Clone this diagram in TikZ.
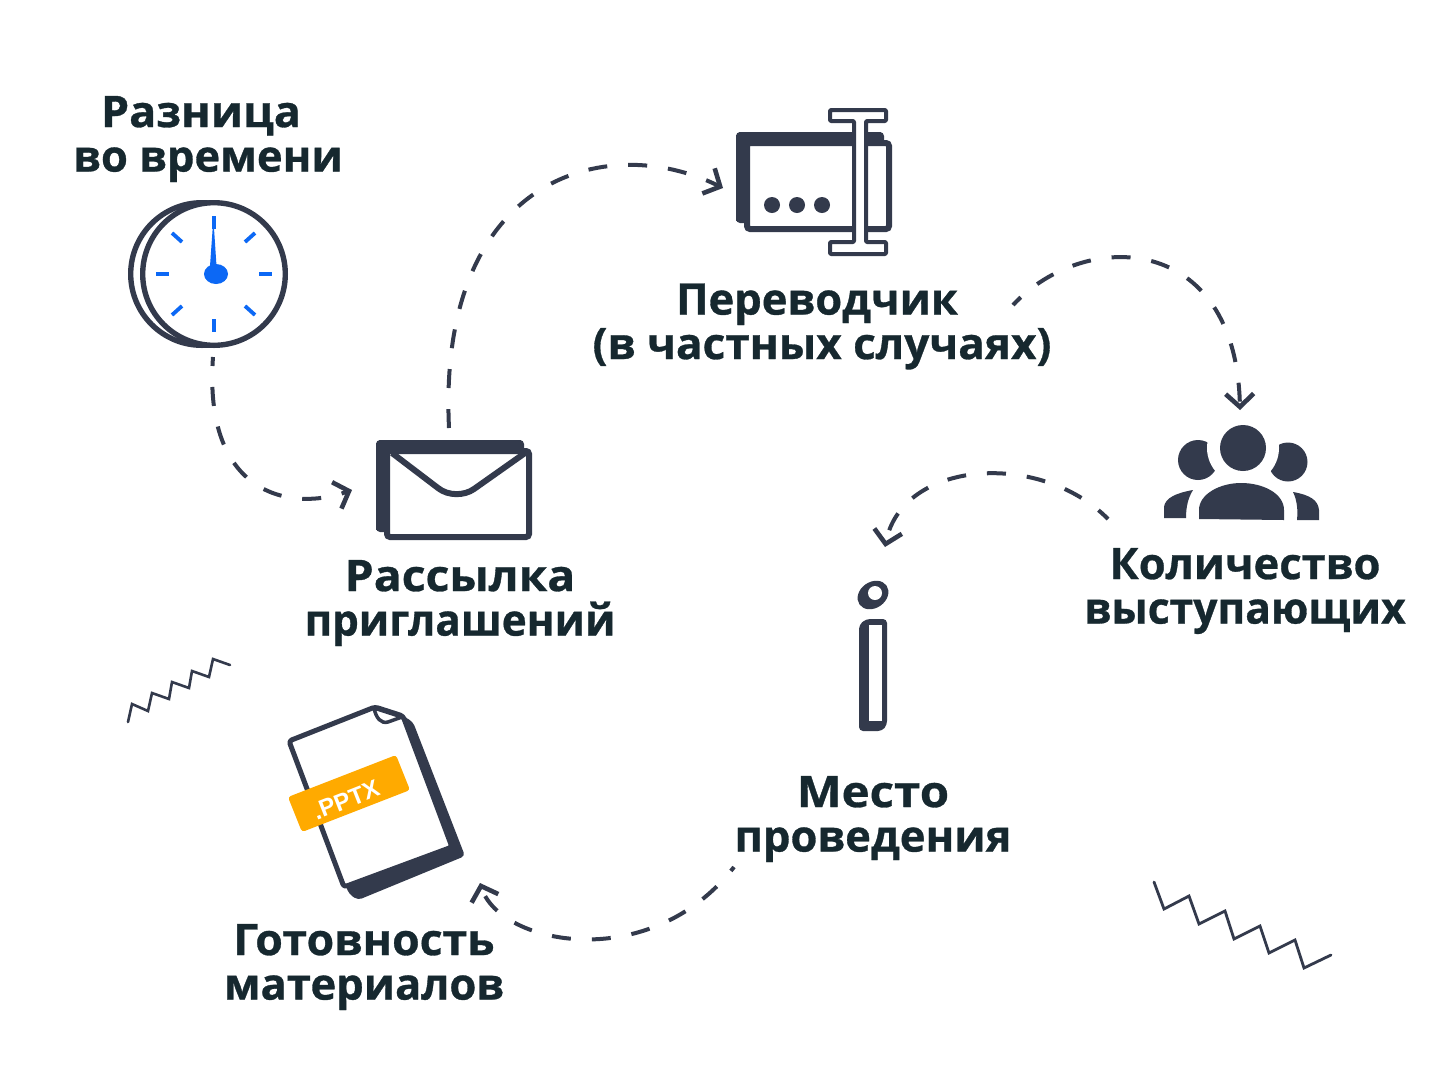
\documentclass[tikz,border=0pt]{standalone}
\usepackage{fontspec}
\usepackage{graphicx}
\setmainfont{Open Sans}[BoldFont={Open Sans Bold},BoldFeatures={FakeBold=0.7}]
\newfontfamily\tagfont{Liberation Sans Bold}
\usetikzlibrary{arrows.meta,calc}
\definecolor{ink}{HTML}{333A4C}
\definecolor{txt}{HTML}{16282F}
\definecolor{blu}{HTML}{0C68F5}
\definecolor{org}{HTML}{FFAA00}
\newcommand{\xfit}[2]{\scalebox{#1}[1]{#2}}
\tikzset{
  lbl/.style={text=txt,inner sep=0,align=center,font=\fontsize{43.5}{44.5}\selectfont\bfseries},
  flow/.style={draw=ink,line width=4pt,dash pattern=on 19pt off 21pt,-{Straight Barb[length=13pt,width=28pt,line width=4.6pt]}},
  tick/.style={draw=blu,line width=3.8pt},
  zig/.style={draw=ink,line join=miter,line cap=round},
  solidink/.style={fill=ink,draw=none,rounded corners=4pt},
  frameink/.style={draw=ink,fill=white,line width=6pt,rounded corners=3pt}
}
\begin{document}
\begin{tikzpicture}[x=1pt,y=-1pt]
\useasboundingbox (0,0) rectangle (1440,1080);
\fill[white] (0,0) rectangle (1440,1080);

% clock
\draw[ink,line width=5.4pt,fill=white] (202,274) circle (71.3);
\draw[ink,line width=5.4pt,fill=white] (214,274) circle (71.3);
\foreach \a/\b/\c/\d in {214/216/214/229,214/319/214/332,156/274/169/274,259/274/272/274,172/233/182/242,255/233/245/242,172/315/182/306,255/315/245/306}
  \draw[tick] (\a,\b) -- (\c,\d);
\fill[blu] (212.7,228) -- (214,228) -- (216.5,266) -- (210,266) -- cycle;
\fill[blu] (216,274) ellipse (12 and 10);
\coordinate (clockout) at (213,357);

% envelope
\fill[solidink] (376,440) rectangle (524,532);
\draw[frameink] (387,451) rectangle (529,537);
\fill[ink] (379,440) rectangle (521,454);
\fill[ink] (376,443) rectangle (390,530);
\draw[ink,line width=6pt,line join=round] (392,453) -- (438,488) .. controls (448,496) and (464,496) .. (474,489) -- (525,453);
\coordinate (mailin) at (352,490);
\coordinate (mailout) at (449,428);

% translator
\fill[solidink] (736,132) rectangle (884,223);
\draw[frameink] (747,143) rectangle (889,229);
\fill[ink] (739,132) rectangle (881,146);
\fill[ink] (736,135) rectangle (750,221);
\foreach \x in {772,797,822} \fill[ink] (\x,205) circle (8);
\draw[ink,line width=4pt,fill=white,line join=round,rounded corners=1pt]
  (830,110) -- (886,110) -- (886,121) -- (866,121) -- (866,242) -- (886,242) -- (886,254)
  -- (830,254) -- (830,242) -- (854,242) -- (854,121) -- (830,121) -- cycle;
\coordinate (transin) at (723,188);
\coordinate (transout) at (1013,305);

% people
\fill[ink] (1198,460) circle (20);
\fill[ink] (1288,462) circle (19.5);
\fill[white] (1243,448) circle (36);
\fill[ink] (1243,448) circle (23);
\fill[ink] (1199,519) -- (1199,510) .. controls (1199,494) and (1220,483) .. (1241,483)
  .. controls (1264,483) and (1284,494) .. (1284,510) -- (1284,520) -- cycle;
\fill[ink] (1164,518) -- (1164,507) .. controls (1165,498) and (1176,493) .. (1193,490)
  .. controls (1188,498) and (1186,507) .. (1186,518) -- cycle;
\fill[ink] (1293,492) .. controls (1310,495) and (1318,500) .. (1319,510) -- (1319,520) -- (1297,520)
  .. controls (1298,510) and (1297,500) .. (1293,492) -- cycle;
\coordinate (peoplein) at (1240,410);
\coordinate (peopleout) at (1108,519);

% info mark
\fill[ink,rotate around={35:(873,595)}] (873,595) ellipse (16.5 and 13);
\fill[white] (875,593) circle (7);
\fill[ink,rounded corners=4pt] (859,625) -- (866,619) -- (887,619) -- (887,725) -- (882,731) -- (859,731) -- cycle;
\fill[white] (869,625) rectangle (882,721);
\coordinate (infoin) at (885,547);
\coordinate (infoout) at (734,867);

% document
\fill[ink,rounded corners=4pt] (400,714) -- (413,722) -- (465,856) -- (358,900) -- (349,894) -- (340,870) -- cycle;
\draw[ink,line width=5pt,fill=white,rounded corners=3pt,line join=round]
  (289,741) -- (375,707) -- (403,716) -- (452,847) -- (344,887) -- cycle;
\draw[ink,line width=3.5pt,fill=white,line join=round] (374,708) .. controls (376,718) and (381,724) .. (388,722) -- (402,717) -- cycle;
\path (288,797) coordinate (ta) (396,755) coordinate (tb) (410,790) coordinate (tc) (302,832) coordinate (td);
\fill[org,rounded corners=3pt] (ta) -- (tb) -- (tc) -- (td) -- cycle;
\node[rotate=21.5,text=white,inner sep=0,font=\tagfont\fontsize{24}{24}\selectfont] (tag) at (346,800) {.PPTX};
\coordinate (docin) at (480,883);

% connectors
\draw[flow,dash phase=10pt] (clockout) .. controls (203,495) and (290,512) .. (mailin);
\draw[flow] (mailout) .. controls (437,178) and (605,130) .. (transin);
\draw[flow,dash phase=8pt] (transout) .. controls (1085,228) and (1236,232) .. (peoplein);
\draw[flow,dash phase=6pt] (peopleout) .. controls (1040,450) and (902,460) .. (infoin);
\draw[flow,dash phase=14pt] (infoout) .. controls (650,975) and (500,945) .. (docin);

% zigzags
\draw[zig,line width=2.6pt] (128,722) -- (132,704) -- (148,711) -- (152,693) -- (169,699) -- (172,682) -- (189,688) -- (192,671) -- (209,677) -- (213,659) -- (230,665);
\draw[zig,line width=2.8pt] (1154,882) -- (1164,909) -- (1189,896) -- (1199,924) -- (1225,911) -- (1234,939) -- (1260,926) -- (1269,953) -- (1295,940) -- (1304,968) -- (1331,955);

% labels
\node[lbl] (t1) at (208,139) {\hspace*{-14pt}\xfit{1.03}{Разница}\\во времени};
\node[lbl] (t2) at (822,326.5) {\hspace*{-10pt}Переводчик\\\xfit{1.013}{(в частных случаях)}};
\node[lbl] (t3) at (460,603) {\xfit{1.065}{Рассылка}\\\xfit{0.97}{приглашений}};
\node[lbl] (t4) at (1245,591) {Количество\\\xfit{0.98}{выступающих}};
\node[lbl] (t5) at (873,819) {\xfit{1.09}{Место}\\проведения};
\node[lbl] (t6) at (364,967) {\xfit{1.024}{Готовность}\\материалов};
\end{tikzpicture}
\end{document}
